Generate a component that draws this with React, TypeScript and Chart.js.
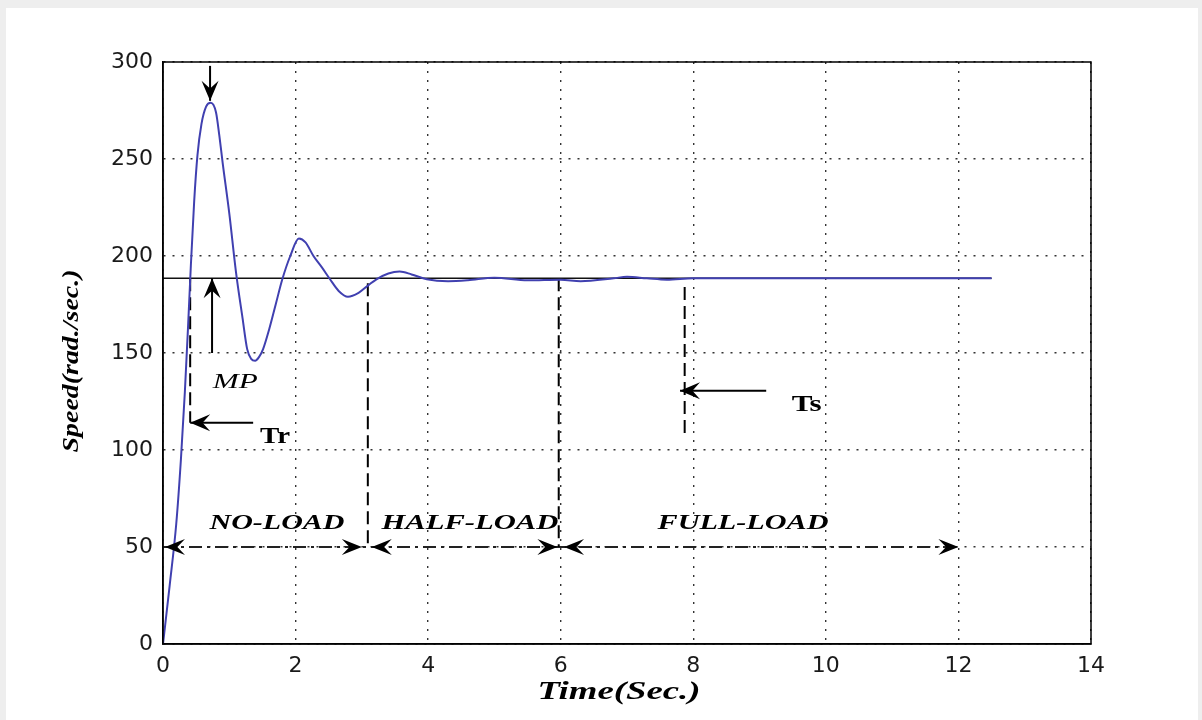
import React, { useEffect, useRef } from "react";
import { Chart, registerables } from "chart.js";

Chart.register(...registerables);

// ---- data ----
const timeSec = [
  0, 0.1, 0.2, 0.27, 0.33, 0.38, 0.42, 0.47, 0.52, 0.58, 0.65, 0.72,
  0.8, 0.85, 0.9, 1.0, 1.1, 1.2, 1.27, 1.33, 1.39, 1.45, 1.51, 1.6, 1.7, 1.8,
  1.92, 2.05, 2.15, 2.27, 2.4, 2.52, 2.65, 2.79, 2.95, 3.1, 3.22, 3.4, 3.57,
  3.75, 3.98, 4.3, 4.6, 5.0, 5.5, 6.0, 6.3, 6.8, 7.0, 7.3, 7.6, 8.0, 12.5,
];
const speedRad = [
  0, 30, 62, 95, 130, 165, 195, 228, 252, 268, 277, 279,
  274, 262, 248, 222, 192, 168, 152, 147, 146, 148, 152, 162, 175, 188,
  200, 209, 207, 200, 194, 188, 182, 179, 181, 185, 188, 191, 192,
  190.5, 188, 187, 187.5, 188.8, 187.5, 187.8, 187, 188.5, 189.3, 188.5, 187.8, 188.5, 188.5,
];
const referenceSpeed = 188.5;
const referenceEnd = 12.5;

const xTickStep = 2;
const xMax = 14;
const yTickStep = 50;
const yMax = 300;

// vertical dashed markers
const markerTimes = [0.41, 3.09, 5.97, 7.87];
const markerTop = [188.5, 186, 188.5, 184];
const markerBottom = [114, 50, 50, 107];

// load band (dash-dot line with arrows)
const loadLevel = 50;
const loadStart = 0;
const loadEnd = 12;
const loadArrowTimes = [0.03, 3.0, 3.15, 5.95, 6.05, 12.0];
const loadArrowDirs = [-1, 1, -1, 1, -1, 1];
const loadLabels = ["NO-LOAD", "HALF-LOAD", "FULL-LOAD"];
const loadLabelTimes = [1.72, 4.63, 8.75];
const loadLabelLevel = 62;

// annotation arrows (from -> tip)
const arrowFromX = [1.36, 0.74, 0.71, 9.1];
const arrowFromY = [114, 150, 298, 130.5];
const arrowTipX = [0.41, 0.74, 0.71, 7.8];
const arrowTipY = [114, 188.5, 280, 130.5];

// annotation texts
const noteTexts = ["Tr", "MP", "Ts"];
const noteX = [1.69, 1.09, 9.71];
const noteY = [106.7, 134.5, 123.2];

const xTitle = "Time(Sec.)";
const yTitle = "Speed(rad./sec.)";

function arrowHead(ctx: CanvasRenderingContext2D, x: number, y: number, angle: number, L = 20, W = 8.5) {
  ctx.save();
  ctx.translate(x, y);
  ctx.rotate(angle);
  ctx.beginPath();
  ctx.moveTo(0, 0);
  ctx.lineTo(-L, -W);
  ctx.lineTo(-L * 0.62, 0);
  ctx.lineTo(-L, W);
  ctx.closePath();
  ctx.fill();
  ctx.restore();
}

function stretchedText(
  ctx: CanvasRenderingContext2D,
  text: string,
  cx: number,
  cy: number,
  font: string,
  targetW: number,
  rotate = 0
) {
  ctx.save();
  ctx.font = font;
  const w = ctx.measureText(text).width;
  ctx.translate(cx, cy);
  if (rotate) ctx.rotate(rotate);
  ctx.scale(targetW / w, 1);
  ctx.textAlign = "center";
  ctx.textBaseline = "middle";
  ctx.fillText(text, 0, 0);
  ctx.restore();
}

const annotationPlugin = {
  id: "annotations",
  afterDatasetsDraw(chart: any) {
    const ctx: CanvasRenderingContext2D = chart.ctx;
    const xs = chart.scales.x;
    const ys = chart.scales.y;
    const px = (v: number) => xs.getPixelForValue(v);
    const py = (v: number) => ys.getPixelForValue(v);
    const ca = chart.chartArea;

    ctx.save();
    ctx.fillStyle = "#000";
    ctx.strokeStyle = "#000";

    // arrows
    for (let i = 0; i < arrowFromX.length; i++) {
      const x1 = px(arrowFromX[i]);
      const y1 = py(arrowFromY[i]);
      const x2 = px(arrowTipX[i]);
      const y2 = py(arrowTipY[i]);
      ctx.lineWidth = 2;
      ctx.setLineDash([]);
      ctx.beginPath();
      ctx.moveTo(x1, y1);
      ctx.lineTo(x2, y2);
      ctx.stroke();
      arrowHead(ctx, x2, y2, Math.atan2(y2 - y1, x2 - x1));
    }

    // load arrows
    for (let i = 0; i < loadArrowTimes.length; i++) {
      const x = px(loadArrowTimes[i]);
      const y = py(loadLevel);
      arrowHead(ctx, x, y, loadArrowDirs[i] < 0 ? Math.PI : 0, 20, 8);
    }

    // load labels
    const loadWidths = [135, 177, 171];
    for (let i = 0; i < loadLabels.length; i++) {
      stretchedText(
        ctx,
        loadLabels[i],
        px(loadLabelTimes[i]),
        py(loadLabelLevel),
        "bold italic 21px 'Liberation Serif'",
        loadWidths[i]
      );
    }

    // notes
    const noteFonts = [
      "bold 23px 'Liberation Serif'",
      "italic 20px 'Liberation Serif'",
      "bold 23px 'Liberation Serif'",
    ];
    const noteWidths = [30, 45, 30];
    for (let i = 0; i < noteTexts.length; i++) {
      stretchedText(ctx, noteTexts[i], px(noteX[i]), py(noteY[i]), noteFonts[i], noteWidths[i]);
    }

    // box
    ctx.lineWidth = 1.5;
    ctx.strokeRect(ca.left, ca.top, ca.right - ca.left, ca.bottom - ca.top);

    // axis titles
    stretchedText(ctx, xTitle, (ca.left + ca.right) / 2 - 8, ca.bottom + 49, "bold italic 25px 'Liberation Serif'", 163);
    stretchedText(ctx, yTitle, 66, (ca.top + ca.bottom) / 2 + 8, "bold italic 23px 'Liberation Serif'", 183, -Math.PI / 2);

    ctx.restore();
  },
};

export default function App() {
  const ref = useRef<HTMLCanvasElement>(null);

  useEffect(() => {
    document.body.style.background = "#eeeeee";
    document.body.style.margin = "0";
    const canvas = ref.current;
    if (!canvas) return;

    const curve = timeSec.map((t, i) => ({ x: t, y: speedRad[i] }));
    const refLine = [
      { x: 0, y: referenceSpeed },
      { x: referenceEnd, y: referenceSpeed },
    ];
    const markerSets = markerTimes.map((t, i) => ({
      data: [
        { x: t, y: markerTop[i] },
        { x: t, y: markerBottom[i] },
      ],
      borderColor: "#000",
      borderWidth: 2,
      borderDash: [13, 6],
      pointRadius: 0,
      showLine: true,
      fill: false,
    }));

    const chart = new Chart(canvas, {
      type: "scatter",
      data: {
        datasets: [
          {
            data: curve,
            borderColor: "#4040b0",
            borderWidth: 2,
            pointRadius: 0,
            showLine: true,
            cubicInterpolationMode: "monotone",
            fill: false,
          } as any,
          {
            data: refLine,
            borderColor: "#111",
            borderWidth: 1.6,
            pointRadius: 0,
            showLine: true,
            fill: false,
          },
          ...markerSets,
          {
            data: [
              { x: loadStart, y: loadLevel },
              { x: loadEnd, y: loadLevel },
            ],
            borderColor: "#222",
            borderWidth: 1.8,
            borderDash: [13, 5, 3, 5],
            pointRadius: 0,
            showLine: true,
            fill: false,
          },
        ],
      },
      options: {
        responsive: false,
        animation: false,
        devicePixelRatio: 1,
        layout: { padding: { top: 54, right: 107, left: 0, bottom: 0 } },
        plugins: {
          legend: { display: false },
          tooltip: { enabled: false },
        },
        scales: {
          x: {
            type: "linear",
            min: 0,
            max: xMax,
            ticks: {
              stepSize: xTickStep,
              color: "#1a1a1a",
              font: { family: "'DejaVu Sans'", size: 22 },
              padding: 9,
              maxRotation: 0,
            },
            grid: { color: "#333", lineWidth: 1.4, drawTicks: false },
            border: { display: true, color: "#000", width: 1.5, dash: [2, 7] },
            afterFit: (s: any) => {
              s.height = 76;
            },
          },
          y: {
            type: "linear",
            min: 0,
            max: yMax,
            ticks: {
              stepSize: yTickStep,
              color: "#1a1a1a",
              font: { family: "'DejaVu Sans'", size: 22 },
              padding: 10,
            },
            grid: { color: "#333", lineWidth: 1.4, drawTicks: false },
            border: { display: true, color: "#000", width: 1.5, dash: [2, 7] },
            afterFit: (s: any) => {
              s.width = 157;
            },
          },
        },
      } as any,
      plugins: [annotationPlugin],
    });

    return () => chart.destroy();
  }, []);

  return (
    <div
      style={{
        position: "absolute",
        left: 6,
        top: 8,
        width: 1192,
        height: 712,
        background: "#ffffff",
      }}
    >
      <canvas ref={ref} width={1192} height={712} style={{ display: "block" }} />
    </div>
  );
}
